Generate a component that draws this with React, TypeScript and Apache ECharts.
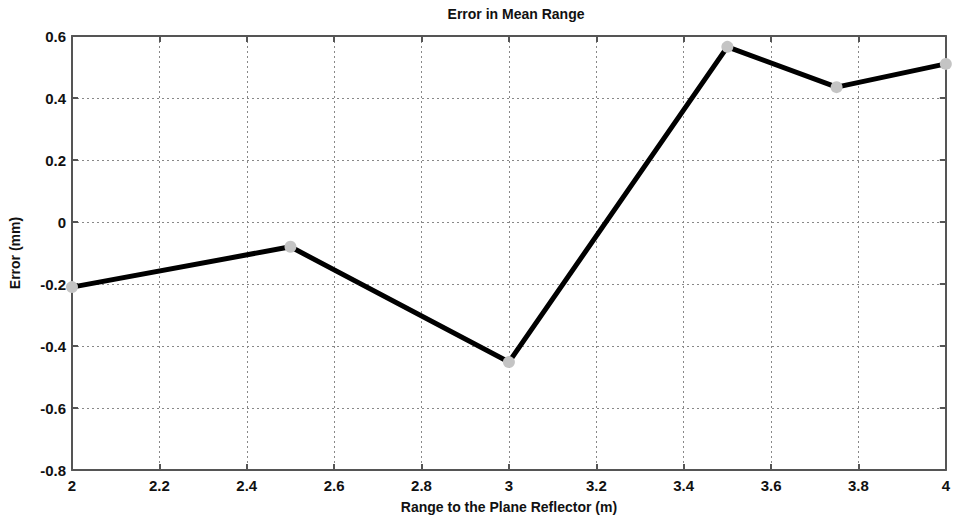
import React, { useEffect, useRef } from "react";
import * as echarts from "echarts";

const rangeM = [2, 2.5, 3, 3.5, 3.75, 4];
const errorMm = [-0.21, -0.08, -0.452, 0.565, 0.435, 0.51];
const titleText = "Error in Mean Range";
const xName = "Range to the Plane Reflector (m)";
const yName = "Error (mm)";

export default function App() {
  const ref = useRef<HTMLDivElement>(null);
  useEffect(() => {
    if (!ref.current) return;
    const chart = echarts.init(ref.current, null, { renderer: "svg" });
    const font = "Liberation Sans, Arial, sans-serif";
    const axisLine = { show: true, onZero: false, lineStyle: { color: "#555", width: 2 } };
    const tick = { show: true, inside: true, length: 6, lineStyle: { color: "#555", width: 2 } };
    const split = { show: true, lineStyle: { color: "#888", type: [2, 3] as any, width: 1 } };
    const labelStyle = { fontFamily: font, fontSize: 15, fontWeight: "bold", color: "#111" };
    chart.setOption({
      animation: false,
      backgroundColor: "#fff",
      title: {
        text: titleText,
        left: 511,
        textAlign: "center",
        top: 2,
        textStyle: { fontFamily: font, fontSize: 14, fontWeight: "bold", color: "#111" },
      },
      grid: { left: 72, right: 4, top: 36, bottom: 49, show: false },
      xAxis: [
        {
          type: "value",
          min: 2,
          max: 4,
          interval: 0.2,
          name: xName,
          nameLocation: "middle",
          nameGap: 30,
          nameTextStyle: { fontFamily: font, fontSize: 14, fontWeight: "bold", color: "#111" },
          axisLine,
          axisTick: tick,
          splitLine: split,
          axisLabel: {
            ...labelStyle,
            margin: 8,
            formatter: (v: number) => String(Math.round(v * 10) / 10),
          },
        },
        {
          type: "value",
          position: "top",
          min: 2,
          max: 4,
          interval: 0.2,
          axisLine,
          axisTick: tick,
          splitLine: { show: false },
          axisLabel: { show: false },
        },
      ],
      yAxis: [
        {
          type: "value",
          min: -0.8,
          max: 0.6,
          interval: 0.2,
          name: yName,
          nameLocation: "middle",
          nameGap: 50,
          nameTextStyle: { fontFamily: font, fontSize: 14, fontWeight: "bold", color: "#111" },
          axisLine,
          axisTick: tick,
          splitLine: split,
          axisLabel: {
            ...labelStyle,
            margin: 6,
            formatter: (v: number) => String(Math.round(v * 10) / 10),
          },
        },
        {
          type: "value",
          position: "right",
          min: -0.8,
          max: 0.6,
          interval: 0.2,
          axisLine,
          axisTick: tick,
          splitLine: { show: false },
          axisLabel: { show: false },
        },
      ],
      series: [
        {
          type: "line",
          data: rangeM.map((x, i) => [x, errorMm[i]]),
          symbol: "circle",
          symbolSize: 12,
          itemStyle: { color: "#c4c4c4", borderWidth: 0 },
          lineStyle: { color: "#000", width: 5 },
          clip: false,
        },
      ],
    });
    return () => chart.dispose();
  }, []);
  return <div ref={ref} style={{ width: 953, height: 519, position: "absolute", left: 0, top: 0 }} />;
}
